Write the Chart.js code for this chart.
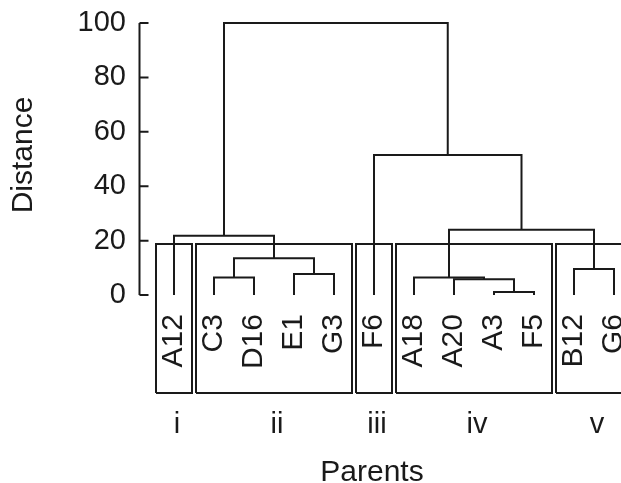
<!DOCTYPE html>
<html>
<head>
<meta charset="utf-8">
<script src="https://cdn.jsdelivr.net/npm/chart.js@4.4.1/dist/chart.umd.min.js"></script>
<style>
  html, body { margin: 0; padding: 0; background: #fff; }
  #wrap { width: 621px; height: 483px; position: relative; }
</style>
</head>
<body>
<div id="wrap"><canvas id="dendro"></canvas></div>
<script>
// leaves, in the order they are drawn
const leaves = ['A12', 'C3', 'D16', 'E1', 'G3', 'F6', 'A18', 'A20', 'A3', 'F5', 'B12', 'G6'];
// merges, hclust style: negative = leaf (1-based), positive = earlier merge
const mergeLeft   = [-9, -8, -7, -2, -4, -11, 4, -1, 3, -6, 8];
const mergeRight  = [-10, 1, 2, -3, -5, -12, 5, 7, 6, 9, 10];
const mergeHeight = [1.1, 5.8, 6.5, 6.5, 7.7, 9.6, 13.5, 21.8, 24.0, 51.5, 100];
// parent groups (boxes)
const groupNames = ['i', 'ii', 'iii', 'iv', 'v'];
const groupFirst = [0, 1, 5, 6, 10];
const groupLast  = [0, 4, 5, 9, 11];
const yTicks = [0, 20, 40, 60, 80, 100];

const ink = '#1a1a1a';
const fontFamily = '"Liberation Sans", Arial, Helvetica, sans-serif';
const boxTop = 18.8, boxBottom = -36, boxPad = 0.45;

// position of every merge node
const nodes = [];
function node(k) {
  if (k < 0) return {x: -k - 1, h: 0};
  return nodes[k - 1];
}
const datasets = [];
for (let i = 0; i < mergeHeight.length; i++) {
  const a = node(mergeLeft[i]);
  const b = node(mergeRight[i]);
  const h = mergeHeight[i];
  nodes.push({x: (a.x + b.x) / 2, h: h});
  datasets.push({
    data: [{x: a.x, y: a.h}, {x: a.x, y: h}, {x: b.x, y: h}, {x: b.x, y: b.h}],
  });
}
for (let g = 0; g < groupNames.length; g++) {
  const l = groupFirst[g] - boxPad, r = groupLast[g] + boxPad;
  datasets.push({
    data: [{x: l, y: boxBottom}, {x: l, y: boxTop}, {x: r, y: boxTop}, {x: r, y: boxBottom}, {x: l, y: boxBottom}],
  });
}
datasets.forEach(d => {
  d.borderColor = ink;
  d.borderWidth = 2;
  d.pointRadius = 0;
  d.fill = false;
  d.tension = 0;
  d.clip = false;
  d.borderJoinStyle = 'miter';
});

const extras = {
  id: 'extras',
  afterDraw(chart) {
    const {ctx, chartArea, scales: {x, y}} = chart;
    ctx.save();
    ctx.strokeStyle = ink;
    ctx.lineWidth = 2;
    const ax = chartArea.left + 0.5;
    ctx.beginPath();
    ctx.moveTo(ax, y.getPixelForValue(0));
    ctx.lineTo(ax, y.getPixelForValue(100));
    yTicks.forEach(v => {
      const py = y.getPixelForValue(v);
      ctx.moveTo(ax, py);
      ctx.lineTo(ax + 9, py);
    });
    ctx.stroke();

    ctx.fillStyle = ink;
    // leaf names, rotated
    ctx.font = '30px ' + fontFamily;
    ctx.textAlign = 'right';
    ctx.textBaseline = 'middle';
    const top = y.getPixelForValue(0) + 19;
    leaves.forEach((name, i) => {
      ctx.save();
      ctx.translate(x.getPixelForValue(i), top);
      ctx.rotate(-Math.PI / 2);
      ctx.fillText(name, 0, 0);
      ctx.restore();
    });

    // group numerals
    ctx.font = '29px ' + fontFamily;
    ctx.textAlign = 'center';
    ctx.textBaseline = 'alphabetic';
    groupNames.forEach((name, g) => {
      const px = x.getPixelForValue((groupFirst[g] + groupLast[g]) / 2);
      ctx.fillText(name, px + 3, 433);
    });

    // axis titles
    ctx.font = '30px ' + fontFamily;
    ctx.fillText('Parents', 372, 481);
    ctx.save();
    ctx.translate(24, 155);
    ctx.rotate(-Math.PI / 2);
    ctx.textBaseline = 'middle';
    ctx.fillText('Distance', 0, 0);
    ctx.restore();
    ctx.restore();
  }
};

new Chart(document.getElementById('dendro'), {
  type: 'line',
  data: {datasets: datasets},
  options: {
    responsive: true,
    maintainAspectRatio: false,
    animation: false,
    layout: {padding: {top: 23, bottom: 90, left: 0, right: 0}},
    plugins: {
      legend: {display: false},
      tooltip: {enabled: false},
    },
    scales: {
      x: {
        type: 'linear',
        display: false,
        min: -0.875,
        max: 11.175,
      },
      y: {
        type: 'linear',
        min: -36,
        max: 100,
        afterBuildTicks: s => { s.ticks = yTicks.map(v => ({value: v})); },
        afterFit: s => {
          s.width = 139;
          s.paddingTop = 0;
          s.paddingBottom = 0;
        },
        grid: {display: false, drawTicks: false},
        border: {display: false},
        ticks: {
          padding: 13,
          color: ink,
          font: {family: fontFamily, size: 29},
        },
      },
    },
  },
  plugins: [extras],
});
</script>
</body>
</html>
